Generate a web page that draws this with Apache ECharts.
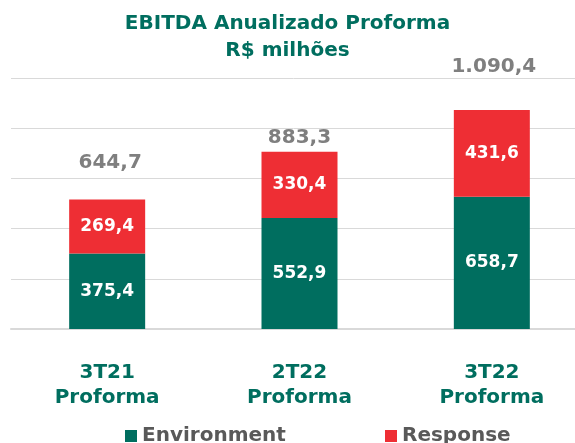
<!DOCTYPE html>
<html lang="pt">
<head>
    <meta charset="utf-8"/>
    <title>EBITDA Anualizado Proforma</title>
    <script type="text/javascript" src="https://cdn.jsdelivr.net/npm/echarts@6/dist/echarts.min.js"></script>
    <style>
        html, body { margin: 0; padding: 0; background: #fff; }
        #container { width: 575px; height: 443px; }
    </style>
</head>
<body>
<div id="container"></div>
<script type="text/javascript">
    // dados do grafico
    var categories = ['3T21\nProforma', '2T22\nProforma', '3T22\nProforma'];
    var environment = [375.4, 552.9, 658.7];
    var response = [269.4, 330.4, 431.6];
    var totals = [644.7, 883.3, 1090.4];

    var GREEN = '#006e5f';
    var RED = '#ee2e34';
    var FONT = 'DejaVu Sans';

    // deslocamento dos rotulos de total (estilo, nao dados)
    var totalOffsets = [[3, -22], [0, 1], [2, -28]];

    function fmt(v) {
        var parts = v.toFixed(1).split('.');
        parts[0] = parts[0].replace(/\B(?=(\d{3})+(?!\d))/g, '.');
        return parts.join(',');
    }

    var dom = document.getElementById('container');
    var myChart = echarts.init(dom);

    var option = {
        animation: false,
        title: {
            text: 'EBITDA Anualizado Proforma\nR$ milhões',
            left: 'center',
            top: 5,
            textStyle: {
                color: GREEN,
                fontFamily: FONT,
                fontWeight: 'bold',
                fontSize: 20,
                lineHeight: 27
            }
        },
        legend: [
            {
                data: ['Environment'],
                left: 125,
                top: 426,
                padding: 0,
                icon: 'rect',
                itemWidth: 12,
                itemHeight: 12,
                textStyle: { color: '#595959', fontFamily: FONT, fontWeight: 'bold', fontSize: 20 }
            },
            {
                data: ['Response'],
                left: 385,
                top: 426,
                padding: 0,
                icon: 'rect',
                itemWidth: 12,
                itemHeight: 12,
                textStyle: { color: '#595959', fontFamily: FONT, fontWeight: 'bold', fontSize: 20 }
            }
        ],
        grid: { left: 11, width: 577, top: 78, bottom: 114, outerBoundsMode: 'none', containLabel: false },
        xAxis: {
            type: 'category',
            data: categories,
            axisTick: { show: false },
            axisLine: { lineStyle: { color: '#d9d9d9', width: 2 } },
            axisLabel: {
                margin: 31,
                color: GREEN,
                fontFamily: FONT,
                fontWeight: 'bold',
                fontSize: 20,
                lineHeight: 25
            }
        },
        yAxis: {
            type: 'value',
            min: 0,
            max: 1250,
            interval: 250,
            axisLabel: { show: false },
            axisLine: { show: false },
            axisTick: { show: false },
            splitLine: { lineStyle: { color: '#d9d9d9', width: 1 } }
        },
        series: [
            {
                name: 'Environment',
                type: 'bar',
                stack: 'ebitda',
                barWidth: 76,
                data: environment,
                itemStyle: { color: GREEN },
                label: {
                    show: true,
                    position: 'inside',
                    color: '#fff',
                    fontFamily: FONT,
                    fontWeight: 'bold',
                    fontSize: 17,
                    formatter: function (p) { return fmt(p.value); }
                }
            },
            {
                name: 'Response',
                type: 'bar',
                stack: 'ebitda',
                barWidth: 76,
                data: response,
                itemStyle: { color: RED },
                label: {
                    show: true,
                    position: 'inside',
                    color: '#fff',
                    fontFamily: FONT,
                    fontWeight: 'bold',
                    fontSize: 17,
                    formatter: function (p) { return fmt(p.value); }
                }
            },
            {
                name: 'Total',
                type: 'bar',
                barWidth: 76,
                barGap: '-100%',
                data: totals.map(function (v, i) {
                    return { value: v, label: { offset: totalOffsets[i] } };
                }),
                itemStyle: { color: 'rgba(0,0,0,0)' },
                silent: true,
                z: 1,
                label: {
                    show: true,
                    position: 'top',
                    distance: 5,
                    color: '#7f7f7f',
                    fontFamily: FONT,
                    fontWeight: 'bold',
                    fontSize: 20,
                    formatter: function (p) { return fmt(p.value); }
                }
            }
        ]
    };
    myChart.setOption(option);
</script>
</body>
</html>
